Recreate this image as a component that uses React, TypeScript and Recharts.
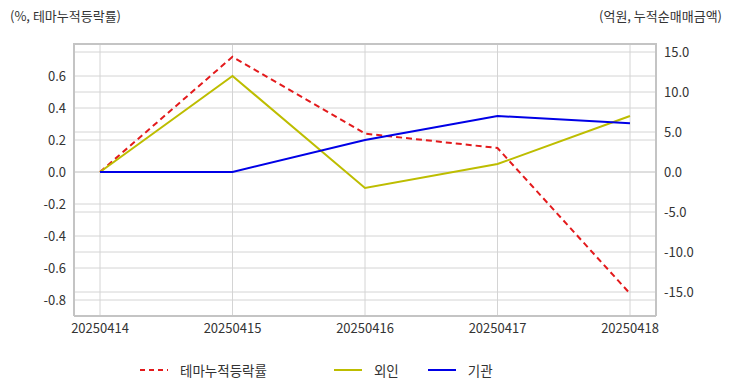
import React from 'react';
import { LineChart, Line, XAxis, YAxis, CartesianGrid, Legend } from 'recharts';

const dates = ['20250414', '20250415', '20250416', '20250417', '20250418'];
const themeRate = [0, 0.72, 0.24, 0.15, -0.76];
const foreign = [0, 12.0, -2.0, 1.0, 7.0];
const institution = [0, 0, 4.0, 7.0, 6.1];

const leftTicks = [-0.8, -0.6, -0.4, -0.2, 0, 0.2, 0.4, 0.6];
const rightTicks = [-15, -10, -5, 0, 5, 10, 15];

const data = dates.map((d, i) => ({
  date: d,
  theme: themeRate[i],
  foreign: foreign[i],
  inst: institution[i],
}));

const FONT = '"Noto Sans CJK KR", "Noto Sans", sans-serif';
const FRAME = '#c4c4c4';

const legendItems = [
  { name: '테마누적등락률', color: '#e31a1c', dash: '5 4', gap: 67 },
  { name: '외인', color: '#bdbd00', dash: undefined, gap: 29 },
  { name: '기관', color: '#0000e6', dash: undefined, gap: 0 },
];

const ChartLegend = () => (
  <div style={{ display: 'flex', paddingLeft: 140, paddingTop: 18, alignItems: 'center', fontFamily: FONT, fontSize: 13.5, color: '#333' }}>
    {legendItems.map((it) => (
      <div key={it.name} style={{ display: 'flex', alignItems: 'center', marginRight: it.gap }}>
        <svg width={28} height={10} style={{ marginRight: 12 }}>
          <line x1={0} y1={5} x2={28} y2={5} stroke={it.color} strokeWidth={2} strokeDasharray={it.dash} />
        </svg>
        <span>{it.name}</span>
      </div>
    ))}
  </div>
);

const App: React.FC = () => {
  const tick = { fill: '#333', fontSize: 13, fontFamily: FONT };
  return (
    <div style={{ position: 'absolute', left: 0, top: 0, width: 732, height: 392, background: '#fff', fontFamily: FONT }}>
      <div style={{ position: 'absolute', left: 10, top: 6, fontSize: 13, color: '#333' }}>(%, 테마누적등락률)</div>
      <div style={{ position: 'absolute', right: 10, top: 6, fontSize: 13, color: '#333' }}>(억원, 누적순매매금액)</div>
      <div style={{ position: 'absolute', left: 0, top: 0 }}>
        <LineChart width={732} height={392} data={data} margin={{ top: 44, right: 0, bottom: 10, left: 0 }}>
          <CartesianGrid yAxisId="left" stroke="#d4d4d4" horizontalValues={leftTicks} vertical={true} />
          <CartesianGrid yAxisId="right" stroke="#d4d4d4" horizontalValues={rightTicks} vertical={false} />
          <XAxis
            dataKey="date"
            padding={{ left: 26, right: 26 }}
            tickLine={false}
            axisLine={{ stroke: FRAME, strokeWidth: 2 }}
            tick={tick}
            height={26}
            interval={0}
          />
          <YAxis
            yAxisId="left"
            width={74}
            domain={[-0.9, 0.8]}
            ticks={leftTicks}
            tickFormatter={(v: number) => v.toFixed(1)}
            tickLine={false}
            axisLine={{ stroke: FRAME, strokeWidth: 2 }}
            tick={tick}
            allowDataOverflow
          />
          <YAxis
            yAxisId="right"
            orientation="right"
            width={76}
            domain={[-18, 16]}
            ticks={rightTicks}
            tickFormatter={(v: number) => v.toFixed(1)}
            tickLine={false}
            axisLine={{ stroke: FRAME, strokeWidth: 2 }}
            tick={tick}
            allowDataOverflow
          />
          <Legend verticalAlign="bottom" height={40} content={() => <ChartLegend />} />
          <Line yAxisId="left" dataKey="theme" stroke="#e31a1c" strokeWidth={2} strokeDasharray="6 4" dot={false} isAnimationActive={false} />
          <Line yAxisId="right" dataKey="foreign" stroke="#bdbd00" strokeWidth={2} dot={false} isAnimationActive={false} />
          <Line yAxisId="right" dataKey="inst" stroke="#0000e6" strokeWidth={2} dot={false} isAnimationActive={false} />
        </LineChart>
      </div>
      {/* top edge of the plot frame */}
      <div style={{ position: 'absolute', left: 73, top: 43, width: 584, height: 0, borderTop: `2px solid ${FRAME}`, zIndex: 5, pointerEvents: 'none' }} />
    </div>
  );
};

export default App;
